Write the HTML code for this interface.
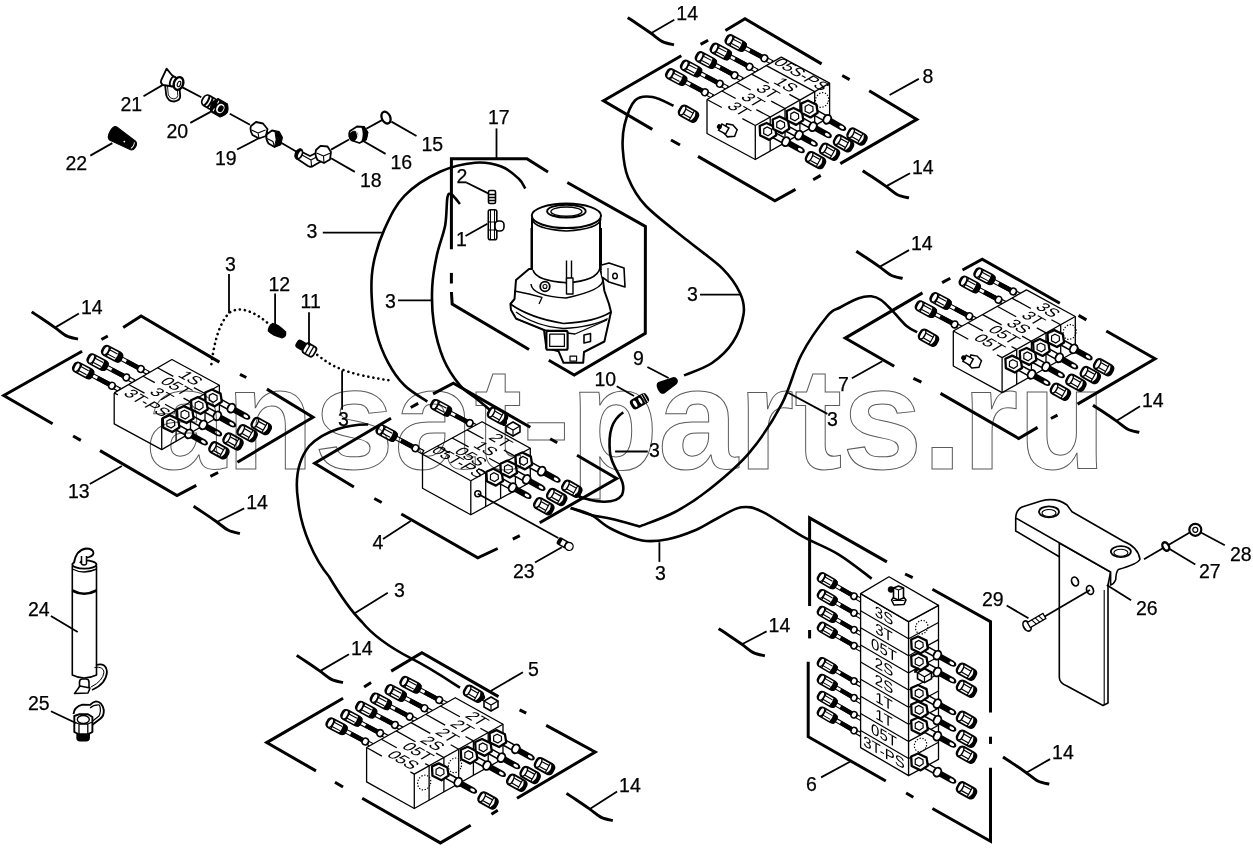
<!DOCTYPE html>
<html><head><meta charset="utf-8"><style>
html,body{margin:0;padding:0;background:#fff;width:1253px;height:857px;overflow:hidden}
svg{display:block;will-change:transform}
text{font-family:"Liberation Sans",sans-serif}
</style></head><body>
<svg width="1253" height="857" viewBox="0 0 1253 857">

<defs>
 <g id="fb">
  <rect x="0" y="-2.2" width="32" height="4.4" fill="#fff" stroke="#000" stroke-width="1.3"/>
  <rect x="12" y="-2.6" width="13" height="5.2" fill="#000"/>
  <ellipse cx="8.5" cy="0" rx="3.2" ry="4.1" fill="#fff" stroke="#000" stroke-width="1.9"/>
  <rect x="30.5" y="-6" width="21" height="12" rx="4" fill="#fff" stroke="#000" stroke-width="1.9"/>
  <path d="M30.5,-4.5 Q30.5,-6 33,-6 L36,-6 Q34.5,0 36,6 L33,6 Q30.5,6 30.5,4.5z" fill="#000"/>
  <path d="M36,-2.7 H45 M36,2.7 H45" stroke="#000" stroke-width="1.3"/>
  <path d="M45,-6 V6" stroke="#000" stroke-width="1.3"/>
  <ellipse cx="48" cy="0" rx="2.6" ry="5.6" fill="#fff" stroke="#000" stroke-width="1.5"/>
 </g>
 <g id="ff">
  <rect x="4" y="-2.8" width="20" height="5.6" fill="#fff" stroke="#000" stroke-width="1.5"/>
  <path d="M24,-3 H38 Q42,-2.7 42.5,0 Q42,2.7 38,3 H24z" fill="#000"/>
  <ellipse cx="37.5" cy="0" rx="2.6" ry="1.4" fill="#fff"/>
  <ellipse cx="21" cy="0" rx="3.6" ry="4.6" fill="#fff" stroke="#000" stroke-width="1.9"/>
  <polygon points="-9.5,-1 -5,-7 4.5,-7.5 9.5,-1 5.5,6.5 -4.5,7" fill="#fff" stroke="#000" stroke-width="2.3" stroke-linejoin="round"/>
  <polygon points="-4.5,-0.5 -2.5,-3.8 2.3,-4 4.5,-0.5 2.5,3.5 -2.3,3.7" fill="#fff" stroke="#000" stroke-width="1.2"/>
 </g>
 <g id="fc">
  <rect x="0" y="-5.6" width="19.5" height="11.2" rx="3.8" fill="#fff" stroke="#000" stroke-width="1.9"/>
  <ellipse cx="3" cy="0" rx="2.3" ry="5" fill="#fff" stroke="#000" stroke-width="1.4"/>
  <path d="M5.5,-2.7 H13.5 M5.5,2.7 H13.5" stroke="#000" stroke-width="1.2"/>
  <path d="M13.5,-5.4 V5.4" stroke="#000" stroke-width="1.2"/>
  <path d="M14.5,-5.6 H16 Q20,-5 20,0 Q20,5 16,5.6 H14.5 Q16.5,2 16.5,0 Q16.5,-2 14.5,-5.6z" fill="#000"/>
 </g>
</defs>

<path d="M627.7,17.6 C629.2,18.6 633.1,21.1 637.0,23.7 C640.9,26.3 646.8,30.3 651.0,33.3 C655.2,36.3 658.7,39.7 662.5,41.6 C666.3,43.5 672.1,44.3 674.0,44.8" fill="none" stroke="#000" stroke-width="2.9" />
<text x="676.3" y="20.1" font-size="19.5" text-anchor="start" fill="#000" stroke="#000" stroke-width="0.25">14</text>
<line x1="674.3" y1="19.8" x2="651.0" y2="33.3" stroke="#000" stroke-width="1.8"/>
<path d="M862.7,170.7 C864.2,171.7 868.1,174.2 872.0,176.8 C875.9,179.4 881.8,183.4 886.0,186.4 C890.2,189.4 893.7,192.8 897.5,194.7 C901.3,196.6 907.1,197.4 909.0,197.9" fill="none" stroke="#000" stroke-width="2.9" />
<text x="912" y="173.5" font-size="19.5" text-anchor="start" fill="#000" stroke="#000" stroke-width="0.25">14</text>
<line x1="910.0" y1="173.2" x2="886.0" y2="186.4" stroke="#000" stroke-width="1.8"/>
<path d="M856.3,251.2 C857.8,252.2 861.7,254.7 865.6,257.3 C869.5,259.9 875.3,263.9 879.6,266.9 C883.8,269.9 887.3,273.3 891.1,275.2 C894.9,277.1 900.7,277.9 902.6,278.4" fill="none" stroke="#000" stroke-width="2.9" />
<text x="911" y="250.4" font-size="19.5" text-anchor="start" fill="#000" stroke="#000" stroke-width="0.25">14</text>
<line x1="909.0" y1="250.1" x2="879.6" y2="266.9" stroke="#000" stroke-width="1.8"/>
<path d="M1093.0,405.2 C1094.5,406.2 1098.4,408.7 1102.3,411.3 C1106.2,413.9 1112.0,417.9 1116.3,420.9 C1120.5,423.9 1124.0,427.3 1127.8,429.2 C1131.6,431.1 1137.4,431.9 1139.3,432.4" fill="none" stroke="#000" stroke-width="2.9" />
<text x="1142" y="406.5" font-size="19.5" text-anchor="start" fill="#000" stroke="#000" stroke-width="0.25">14</text>
<line x1="1140.0" y1="406.2" x2="1116.3" y2="420.9" stroke="#000" stroke-width="1.8"/>
<path d="M31.7,311.9 C33.2,312.9 37.1,315.4 41.0,318.0 C44.9,320.6 50.8,324.6 55.0,327.6 C59.2,330.6 62.7,334.0 66.5,335.9 C70.3,337.8 76.1,338.6 78.0,339.1" fill="none" stroke="#000" stroke-width="2.9" />
<text x="80.9" y="313.8" font-size="19.5" text-anchor="start" fill="#000" stroke="#000" stroke-width="0.25">14</text>
<line x1="78.9" y1="313.5" x2="55.0" y2="327.6" stroke="#000" stroke-width="1.8"/>
<path d="M193.6,506.3 C195.2,507.3 199.0,509.8 202.9,512.4 C206.8,515.0 212.7,519.0 216.9,522.0 C221.2,525.0 224.6,528.4 228.4,530.3 C232.2,532.2 238.0,533.0 239.9,533.5" fill="none" stroke="#000" stroke-width="2.9" />
<text x="246.2" y="508.7" font-size="19.5" text-anchor="start" fill="#000" stroke="#000" stroke-width="0.25">14</text>
<line x1="244.2" y1="508.4" x2="216.9" y2="522.0" stroke="#000" stroke-width="1.8"/>
<path d="M296.7,655.4 C298.2,656.4 302.1,658.9 306.0,661.5 C309.9,664.1 315.8,668.1 320.0,671.1 C324.2,674.1 327.7,677.5 331.5,679.4 C335.3,681.3 341.1,682.1 343.0,682.6" fill="none" stroke="#000" stroke-width="2.9" />
<text x="351" y="654.5" font-size="19.5" text-anchor="start" fill="#000" stroke="#000" stroke-width="0.25">14</text>
<line x1="349.0" y1="654.2" x2="320.0" y2="671.1" stroke="#000" stroke-width="1.8"/>
<path d="M566.5,793.4 C568.0,794.4 571.9,796.9 575.8,799.5 C579.7,802.1 585.5,806.1 589.8,809.1 C594.0,812.1 597.5,815.5 601.3,817.4 C605.1,819.3 610.9,820.1 612.8,820.6" fill="none" stroke="#000" stroke-width="2.9" />
<text x="619.1" y="791.8" font-size="19.5" text-anchor="start" fill="#000" stroke="#000" stroke-width="0.25">14</text>
<line x1="617.1" y1="791.5" x2="589.8" y2="809.1" stroke="#000" stroke-width="1.8"/>
<path d="M718.6,628.6 C720.1,629.6 724.0,632.1 727.9,634.7 C731.8,637.3 737.6,641.3 741.9,644.3 C746.1,647.3 749.6,650.7 753.4,652.6 C757.2,654.5 763.0,655.3 764.9,655.8" fill="none" stroke="#000" stroke-width="2.9" />
<text x="768.6" y="631.7" font-size="19.5" text-anchor="start" fill="#000" stroke="#000" stroke-width="0.25">14</text>
<line x1="766.6" y1="631.4" x2="741.9" y2="644.3" stroke="#000" stroke-width="1.8"/>
<path d="M1003.0,757.0 C1004.5,758.0 1008.4,760.5 1012.3,763.1 C1016.2,765.7 1022.0,769.7 1026.3,772.7 C1030.5,775.7 1034.0,779.1 1037.8,781.0 C1041.6,782.9 1047.4,783.7 1049.3,784.2" fill="none" stroke="#000" stroke-width="2.9" />
<text x="1052.1" y="759.4" font-size="19.5" text-anchor="start" fill="#000" stroke="#000" stroke-width="0.25">14</text>
<line x1="1050.1" y1="759.1" x2="1026.3" y2="772.7" stroke="#000" stroke-width="1.8"/>
<polyline points="725.4,30.5 745.0,18.8 821.6,63.9" fill="none" stroke="#000" stroke-width="3" stroke-linejoin="miter" />
<line x1="842.2" y1="75.5" x2="849.6" y2="79.6" stroke="#000" stroke-width="3"/>
<polyline points="869.2,90.8 916.8,119.4 840.3,163.6" fill="none" stroke="#000" stroke-width="3" stroke-linejoin="miter" />
<line x1="820.7" y1="175.4" x2="813.2" y2="179.7" stroke="#000" stroke-width="3"/>
<polyline points="795.5,189.4 774.9,200.8 698.0,156.4" fill="none" stroke="#000" stroke-width="3" stroke-linejoin="miter" />
<line x1="671.0" y1="140.0" x2="680.0" y2="145.0" stroke="#000" stroke-width="3"/>
<polyline points="652.3,129.4 603.5,100.7 681.3,55.8" fill="none" stroke="#000" stroke-width="3" stroke-linejoin="miter" />
<line x1="700.6" y1="44.4" x2="708.1" y2="40.2" stroke="#000" stroke-width="3"/>
<use href="#fb" transform="translate(712.4,96.3) rotate(208) scale(1.0,0.85)"/>
<use href="#fb" transform="translate(727.3,87.8) rotate(208) scale(1.0,0.85)"/>
<use href="#fb" transform="translate(742.1,79.3) rotate(208) scale(1.0,0.85)"/>
<use href="#fb" transform="translate(757.0,70.8) rotate(208) scale(1.0,0.85)"/>
<use href="#fb" transform="translate(771.9,62.3) rotate(208) scale(1.0,0.85)"/>
<polygon points="707.0,99.5 755.3,125.5 755.3,159.5 707.0,133.5" fill="#fff" stroke="#000" stroke-width="0" stroke-linejoin="round"/>
<polygon points="755.3,125.5 829.6,83.1 829.6,117.1 755.3,159.5" fill="#fff" stroke="#000" stroke-width="0" stroke-linejoin="round"/>
<polygon points="707.0,99.5 755.3,125.5 829.6,83.1 781.3,57.1" fill="#fff" stroke="#000" stroke-width="0" stroke-linejoin="round"/>
<polyline points="707.0,99.5 707.0,133.5 755.3,159.5 829.6,117.1 829.6,83.1 781.3,57.1 707.0,99.5" fill="none" stroke="#000" stroke-width="1.3" stroke-linejoin="round"/>
<line x1="755.3" y1="125.5" x2="755.3" y2="159.5" stroke="#000" stroke-width="1.3"/>
<line x1="755.3" y1="125.5" x2="829.6" y2="83.1" stroke="#000" stroke-width="1.3"/>
<line x1="770.2" y1="117.0" x2="770.2" y2="151.0" stroke="#000" stroke-width="1.3"/>
<line x1="785.0" y1="108.5" x2="785.0" y2="142.5" stroke="#000" stroke-width="1.3"/>
<line x1="799.9" y1="100.1" x2="799.9" y2="134.1" stroke="#000" stroke-width="1.3"/>
<line x1="814.7" y1="91.6" x2="814.7" y2="125.6" stroke="#000" stroke-width="1.3"/>
<line x1="707.0" y1="99.5" x2="721.8" y2="107.5" stroke="#000" stroke-width="1.3"/>
<line x1="742.4" y1="118.6" x2="755.3" y2="125.5" stroke="#000" stroke-width="1.3"/>
<text x="0" y="-2.5" font-size="16.5" text-anchor="middle" transform="matrix(0.866,0.5,-0.866,0.5,732.1,113.0)" fill="#000">3T</text>
<line x1="721.9" y1="91.0" x2="735.7" y2="98.5" stroke="#000" stroke-width="1.3"/>
<line x1="756.3" y1="109.6" x2="770.2" y2="117.0" stroke="#000" stroke-width="1.3"/>
<text x="0" y="-2.5" font-size="16.5" text-anchor="middle" transform="matrix(0.866,0.5,-0.866,0.5,746.0,104.0)" fill="#000">3T</text>
<line x1="736.7" y1="82.5" x2="750.6" y2="90.0" stroke="#000" stroke-width="1.3"/>
<line x1="771.2" y1="101.1" x2="785.0" y2="108.5" stroke="#000" stroke-width="1.3"/>
<text x="0" y="-2.5" font-size="16.5" text-anchor="middle" transform="matrix(0.866,0.5,-0.866,0.5,760.9,95.5)" fill="#000">3T</text>
<line x1="751.6" y1="74.1" x2="768.8" y2="83.3" stroke="#000" stroke-width="1.3"/>
<line x1="789.4" y1="94.4" x2="799.9" y2="100.1" stroke="#000" stroke-width="1.3"/>
<text x="0" y="-2.5" font-size="16.5" text-anchor="middle" transform="matrix(0.866,0.5,-0.866,0.5,779.1,88.9)" fill="#000">1S</text>
<line x1="766.4" y1="65.6" x2="814.7" y2="91.6" stroke="#000" stroke-width="1.3"/>
<text x="0" y="-5" font-size="16.5" text-anchor="middle" transform="matrix(0.866,0.5,-0.866,0.5,792.5,79.6)" fill="#000">05S-PS</text>
<use href="#ff" transform="translate(767.5,131.5) rotate(29) scale(1.0,1.0)"/>
<use href="#ff" transform="translate(780.5,125.0) rotate(29) scale(1.0,1.0)"/>
<use href="#ff" transform="translate(794.5,116.5) rotate(29) scale(1.0,1.0)"/>
<use href="#ff" transform="translate(808.9,109.1) rotate(29) scale(1.0,1.0)"/>
<use href="#fc" transform="translate(807.0,155.4) rotate(29) scale(1.0,1.0)"/>
<use href="#fc" transform="translate(821.0,147.0) rotate(29) scale(1.0,1.0)"/>
<use href="#fc" transform="translate(835.0,138.6) rotate(29) scale(1.0,1.0)"/>
<use href="#fc" transform="translate(848.5,131.8) rotate(29) scale(1.0,1.0)"/>
<ellipse cx="822" cy="100" rx="6.375" ry="7.5" fill="none" stroke="#000" stroke-width="1.2" stroke-dasharray="1.3 1.6" transform="rotate(25 822 100)"/>
<g transform="translate(729,132) rotate(29)"><path d="M-6,-6 l6,-2 l6,2 l1,7 l-6,4 l-6,-2z" fill="#fff" stroke="#000" stroke-width="1.5"/><rect x="-10" y="-3.5" width="8" height="7" fill="#fff" stroke="#000" stroke-width="1.5"/><circle cx="-11" cy="0" r="2.5" fill="#000"/></g>
<path d="M673.5,105.8 C670.0,104.3 658.9,97.9 652.5,97.0 C646.1,96.1 639.7,95.8 635.0,100.5 C630.3,105.2 626.5,116.8 624.5,125.0 C622.5,133.2 622.2,140.8 622.8,149.5 C623.4,158.2 624.2,168.2 628.0,177.5 C631.8,186.8 635.6,195.0 645.5,205.5 C655.4,216.0 674.7,230.1 687.5,240.6 C700.3,251.1 713.8,259.9 722.5,268.6 C731.2,277.3 736.5,285.4 740.0,293.0 C743.5,300.6 744.8,305.8 743.6,314.0 C742.4,322.2 738.3,333.8 733.0,342.0 C727.7,350.2 720.2,357.4 712.0,363.0 C703.8,368.6 688.7,373.3 684.0,375.4" fill="none" stroke="#000" stroke-width="2.6" />
<use href="#fc" transform="translate(680.0,109.0) rotate(29) scale(1.0,1.0)"/>
<text x="922.5" y="83" font-size="19.5" text-anchor="start" fill="#000" stroke="#000" stroke-width="0.25">8</text>
<line x1="918.8" y1="78.9" x2="889.6" y2="95.0" stroke="#000" stroke-width="1.8"/>
<text x="687" y="301" font-size="19.5" text-anchor="start" fill="#000" stroke="#000" stroke-width="0.25">3</text>
<line x1="700.0" y1="294.7" x2="740.8" y2="294.7" stroke="#000" stroke-width="1.8"/>
<polyline points="962.5,270.0 982.2,259.1 1059.8,303.2" fill="none" stroke="#000" stroke-width="3" stroke-linejoin="miter" />
<line x1="942.1" y1="282.6" x2="950.3" y2="278.2" stroke="#000" stroke-width="3"/>
<line x1="1078.6" y1="315.4" x2="1086.4" y2="319.9" stroke="#000" stroke-width="3"/>
<polyline points="922.5,292.9 845.2,338.1 894.2,366.3" fill="none" stroke="#000" stroke-width="3" stroke-linejoin="miter" />
<line x1="913.4" y1="378.3" x2="921.4" y2="382.2" stroke="#000" stroke-width="3"/>
<polyline points="940.5,393.4 1018.7,438.5 1037.6,427.4" fill="none" stroke="#000" stroke-width="3" stroke-linejoin="miter" />
<line x1="1057.5" y1="415.2" x2="1050.9" y2="418.5" stroke="#000" stroke-width="3"/>
<polyline points="1077.5,404.1 1155.1,358.7 1106.3,331.0" fill="none" stroke="#000" stroke-width="3" stroke-linejoin="miter" />
<use href="#fb" transform="translate(962.1,328.4) rotate(208) scale(1.0,0.85)"/>
<use href="#fb" transform="translate(976.8,320.2) rotate(208) scale(1.0,0.85)"/>
<use href="#fb" transform="translate(1006.0,303.7) rotate(208) scale(1.0,0.85)"/>
<use href="#fb" transform="translate(1020.7,295.5) rotate(208) scale(1.0,0.85)"/>
<polygon points="953.3,331.0 1002.1,357.6 1002.1,392.6 953.3,366.0" fill="#fff" stroke="#000" stroke-width="0" stroke-linejoin="round"/>
<polygon points="1002.1,357.6 1075.3,316.5 1075.3,351.5 1002.1,392.6" fill="#fff" stroke="#000" stroke-width="0" stroke-linejoin="round"/>
<polygon points="953.3,331.0 1002.1,357.6 1075.3,316.5 1026.5,289.9" fill="#fff" stroke="#000" stroke-width="0" stroke-linejoin="round"/>
<polyline points="953.3,331.0 953.3,366.0 1002.1,392.6 1075.3,351.5 1075.3,316.5 1026.5,289.9 953.3,331.0" fill="none" stroke="#000" stroke-width="1.3" stroke-linejoin="round"/>
<line x1="1002.1" y1="357.6" x2="1002.1" y2="392.6" stroke="#000" stroke-width="1.3"/>
<line x1="1002.1" y1="357.6" x2="1075.3" y2="316.5" stroke="#000" stroke-width="1.3"/>
<line x1="1016.7" y1="349.4" x2="1016.7" y2="384.4" stroke="#000" stroke-width="1.3"/>
<line x1="1031.4" y1="341.2" x2="1031.4" y2="376.2" stroke="#000" stroke-width="1.3"/>
<line x1="1046.0" y1="332.9" x2="1046.0" y2="367.9" stroke="#000" stroke-width="1.3"/>
<line x1="1060.7" y1="324.7" x2="1060.7" y2="359.7" stroke="#000" stroke-width="1.3"/>
<line x1="953.3" y1="331.0" x2="968.3" y2="339.2" stroke="#000" stroke-width="1.3"/>
<line x1="996.9" y1="354.8" x2="1002.1" y2="357.6" stroke="#000" stroke-width="1.3"/>
<text x="0" y="-2.5" font-size="16.5" text-anchor="middle" transform="matrix(0.866,0.5,-0.866,0.5,982.6,347.0)" fill="#000">05T</text>
<line x1="967.9" y1="322.8" x2="982.9" y2="330.9" stroke="#000" stroke-width="1.3"/>
<line x1="1011.5" y1="346.5" x2="1016.7" y2="349.4" stroke="#000" stroke-width="1.3"/>
<text x="0" y="-2.5" font-size="16.5" text-anchor="middle" transform="matrix(0.866,0.5,-0.866,0.5,997.2,338.7)" fill="#000">05T</text>
<line x1="982.6" y1="314.6" x2="1001.6" y2="324.9" stroke="#000" stroke-width="1.3"/>
<line x1="1022.1" y1="336.1" x2="1031.4" y2="341.2" stroke="#000" stroke-width="1.3"/>
<text x="0" y="-2.5" font-size="16.5" text-anchor="middle" transform="matrix(0.866,0.5,-0.866,0.5,1011.9,330.5)" fill="#000">3S</text>
<line x1="997.2" y1="306.3" x2="1016.2" y2="316.7" stroke="#000" stroke-width="1.3"/>
<line x1="1036.8" y1="327.9" x2="1046.0" y2="332.9" stroke="#000" stroke-width="1.3"/>
<text x="0" y="-2.5" font-size="16.5" text-anchor="middle" transform="matrix(0.866,0.5,-0.866,0.5,1026.5,322.3)" fill="#000">3T</text>
<line x1="1011.9" y1="298.1" x2="1030.9" y2="308.5" stroke="#000" stroke-width="1.3"/>
<line x1="1051.4" y1="319.7" x2="1060.7" y2="324.7" stroke="#000" stroke-width="1.3"/>
<text x="0" y="-2.5" font-size="16.5" text-anchor="middle" transform="matrix(0.866,0.5,-0.866,0.5,1041.1,314.1)" fill="#000">3S</text>
<use href="#ff" transform="translate(1013.2,364.2) rotate(29) scale(1.0,1.0)"/>
<use href="#ff" transform="translate(1027.6,356.5) rotate(29) scale(1.0,1.0)"/>
<use href="#ff" transform="translate(1040.9,347.6) rotate(29) scale(1.0,1.0)"/>
<use href="#ff" transform="translate(1055.3,338.7) rotate(29) scale(1.0,1.0)"/>
<use href="#fc" transform="translate(1051.9,387.0) rotate(29) scale(1.0,1.0)"/>
<use href="#fc" transform="translate(1067.4,378.0) rotate(29) scale(1.0,1.0)"/>
<use href="#fc" transform="translate(1081.8,370.3) rotate(29) scale(1.0,1.0)"/>
<use href="#fc" transform="translate(1095.1,362.5) rotate(29) scale(1.0,1.0)"/>
<ellipse cx="1069.7" cy="332" rx="6.375" ry="7.5" fill="none" stroke="#000" stroke-width="1.2" stroke-dasharray="1.3 1.6" transform="rotate(25 1069.7 332)"/>
<g transform="translate(973.3,363.1) rotate(29)"><path d="M-6,-6 l6,-2 l6,2 l1,7 l-6,4 l-6,-2z" fill="#fff" stroke="#000" stroke-width="1.5"/><rect x="-10" y="-3.5" width="8" height="7" fill="#fff" stroke="#000" stroke-width="1.5"/><circle cx="-11" cy="0" r="2.5" fill="#000"/></g>
<text x="838" y="391" font-size="19.5" text-anchor="start" fill="#000" stroke="#000" stroke-width="0.25">7</text>
<line x1="851.9" y1="378.3" x2="882.3" y2="361.2" stroke="#000" stroke-width="1.8"/>
<use href="#fc" transform="translate(920.0,333.0) rotate(29) scale(1.0,1.0)"/>
<polyline points="123.2,327.5 141.1,315.9 219.4,362.1" fill="none" stroke="#000" stroke-width="3" stroke-linejoin="miter" />
<line x1="101.4" y1="339.5" x2="107.8" y2="336.0" stroke="#000" stroke-width="3"/>
<line x1="240.0" y1="374.4" x2="246.3" y2="377.5" stroke="#000" stroke-width="3"/>
<polyline points="82.1,351.3 3.8,395.5 52.6,423.7" fill="none" stroke="#000" stroke-width="3" stroke-linejoin="miter" />
<line x1="73.1" y1="436.0" x2="80.8" y2="440.4" stroke="#000" stroke-width="3"/>
<polyline points="100.0,450.6 177.0,495.5 196.3,485.3" fill="none" stroke="#000" stroke-width="3" stroke-linejoin="miter" />
<line x1="210.4" y1="476.3" x2="218.1" y2="472.5" stroke="#000" stroke-width="3"/>
<polyline points="237.4,462.2 313.0,417.3 266.9,389.1" fill="none" stroke="#000" stroke-width="3" stroke-linejoin="miter" />
<use href="#fb" transform="translate(119.4,389.7) rotate(208) scale(1.0,0.85)"/>
<use href="#fb" transform="translate(133.8,381.4) rotate(208) scale(1.0,0.85)"/>
<use href="#fb" transform="translate(148.3,373.0) rotate(208) scale(1.0,0.85)"/>
<polygon points="114.2,392.9 161.7,418.6 161.7,449.6 114.2,423.9" fill="#fff" stroke="#000" stroke-width="0" stroke-linejoin="round"/>
<polygon points="161.7,418.6 219.4,385.2 219.4,416.2 161.7,449.6" fill="#fff" stroke="#000" stroke-width="0" stroke-linejoin="round"/>
<polygon points="114.2,392.9 161.7,418.6 219.4,385.2 171.9,359.5" fill="#fff" stroke="#000" stroke-width="0" stroke-linejoin="round"/>
<polyline points="114.2,392.9 114.2,423.9 161.7,449.6 219.4,416.2 219.4,385.2 171.9,359.5 114.2,392.9" fill="none" stroke="#000" stroke-width="1.3" stroke-linejoin="round"/>
<line x1="161.7" y1="418.6" x2="161.7" y2="449.6" stroke="#000" stroke-width="1.3"/>
<line x1="161.7" y1="418.6" x2="219.4" y2="385.2" stroke="#000" stroke-width="1.3"/>
<line x1="176.1" y1="410.2" x2="176.1" y2="441.2" stroke="#000" stroke-width="1.3"/>
<line x1="190.5" y1="401.9" x2="190.5" y2="432.9" stroke="#000" stroke-width="1.3"/>
<line x1="205.0" y1="393.5" x2="205.0" y2="424.5" stroke="#000" stroke-width="1.3"/>
<line x1="114.2" y1="392.9" x2="117.9" y2="394.9" stroke="#000" stroke-width="1.3"/>
<line x1="162.8" y1="419.2" x2="161.7" y2="418.6" stroke="#000" stroke-width="1.3"/>
<text x="0" y="-2.5" font-size="16.5" text-anchor="middle" transform="matrix(0.866,0.5,-0.866,0.5,140.3,407.0)" fill="#000">3T-PS</text>
<line x1="128.6" y1="384.5" x2="144.5" y2="393.1" stroke="#000" stroke-width="1.3"/>
<line x1="165.0" y1="404.3" x2="176.1" y2="410.2" stroke="#000" stroke-width="1.3"/>
<text x="0" y="-2.5" font-size="16.5" text-anchor="middle" transform="matrix(0.866,0.5,-0.866,0.5,154.8,398.7)" fill="#000">3T</text>
<line x1="143.1" y1="376.2" x2="154.8" y2="382.6" stroke="#000" stroke-width="1.3"/>
<line x1="183.5" y1="398.1" x2="190.6" y2="401.9" stroke="#000" stroke-width="1.3"/>
<text x="0" y="-2.5" font-size="16.5" text-anchor="middle" transform="matrix(0.866,0.5,-0.866,0.5,169.2,390.3)" fill="#000">05T</text>
<line x1="157.5" y1="367.8" x2="173.3" y2="376.4" stroke="#000" stroke-width="1.3"/>
<line x1="193.9" y1="387.6" x2="205.0" y2="393.5" stroke="#000" stroke-width="1.3"/>
<text x="0" y="-2.5" font-size="16.5" text-anchor="middle" transform="matrix(0.866,0.5,-0.866,0.5,183.6,382.0)" fill="#000">1S</text>
<use href="#ff" transform="translate(170.6,423.7) rotate(29) scale(1.0,1.0)"/>
<use href="#ff" transform="translate(184.8,414.7) rotate(29) scale(1.0,1.0)"/>
<use href="#ff" transform="translate(198.9,405.7) rotate(29) scale(1.0,1.0)"/>
<use href="#ff" transform="translate(213.0,398.0) rotate(29) scale(1.0,1.0)"/>
<use href="#fc" transform="translate(210.4,445.6) rotate(29) scale(1.0,1.0)"/>
<use href="#fc" transform="translate(224.5,436.7) rotate(29) scale(1.0,1.0)"/>
<use href="#fc" transform="translate(238.6,428.5) rotate(29) scale(1.0,1.0)"/>
<use href="#fc" transform="translate(252.7,421.3) rotate(29) scale(1.0,1.0)"/>
<text x="68" y="497.5" font-size="19.5" text-anchor="start" fill="#000" stroke="#000" stroke-width="0.25">13</text>
<line x1="89.8" y1="484.0" x2="121.9" y2="466.0" stroke="#000" stroke-width="1.8"/>
<polyline points="433.1,393.9 453.4,383.1 530.3,427.2" fill="none" stroke="#000" stroke-width="3" stroke-linejoin="miter" />
<line x1="410.7" y1="407.5" x2="418.2" y2="403.4" stroke="#000" stroke-width="3"/>
<line x1="550.2" y1="438.8" x2="557.2" y2="442.8" stroke="#000" stroke-width="3"/>
<polyline points="391.0,418.3 314.7,463.3 353.9,487.0" fill="none" stroke="#000" stroke-width="3" stroke-linejoin="miter" />
<line x1="374.3" y1="498.5" x2="381.7" y2="502.5" stroke="#000" stroke-width="3"/>
<polyline points="401.3,514.0 477.8,557.8 497.7,548.5" fill="none" stroke="#000" stroke-width="3" stroke-linejoin="miter" />
<line x1="519.8" y1="535.7" x2="512.8" y2="539.2" stroke="#000" stroke-width="3"/>
<polyline points="539.7,522.8 616.7,478.5 577.0,455.2" fill="none" stroke="#000" stroke-width="3" stroke-linejoin="miter" />
<use href="#fb" transform="translate(422.9,452.2) rotate(208) scale(1.0,0.85)"/>
<use href="#fb" transform="translate(477.2,427.1) rotate(208) scale(1.0,0.85)"/>
<use href="#fc" transform="translate(489.0,411.0) rotate(29) scale(1.0,1.0)"/>
<polygon points="422.5,454.3 470.8,480.8 470.8,514.8 422.5,488.3" fill="#fff" stroke="#000" stroke-width="0" stroke-linejoin="round"/>
<polygon points="470.8,480.8 530.3,448.2 530.3,482.2 470.8,514.8" fill="#fff" stroke="#000" stroke-width="0" stroke-linejoin="round"/>
<polygon points="422.5,454.3 470.8,480.8 530.3,448.2 482.0,421.7" fill="#fff" stroke="#000" stroke-width="0" stroke-linejoin="round"/>
<polyline points="422.5,454.3 422.5,488.3 470.8,514.8 530.3,482.2 530.3,448.2 482.0,421.7 422.5,454.3" fill="none" stroke="#000" stroke-width="1.3" stroke-linejoin="round"/>
<line x1="470.8" y1="480.8" x2="470.8" y2="514.8" stroke="#000" stroke-width="1.3"/>
<line x1="470.8" y1="480.8" x2="530.3" y2="448.2" stroke="#000" stroke-width="1.3"/>
<line x1="485.7" y1="472.7" x2="485.7" y2="506.7" stroke="#000" stroke-width="1.3"/>
<line x1="500.6" y1="464.5" x2="500.6" y2="498.5" stroke="#000" stroke-width="1.3"/>
<line x1="515.4" y1="456.4" x2="515.4" y2="490.4" stroke="#000" stroke-width="1.3"/>
<line x1="422.5" y1="454.3" x2="470.8" y2="480.8" stroke="#000" stroke-width="1.3"/>
<text x="0" y="-7" font-size="16.5" text-anchor="middle" transform="matrix(0.866,0.5,-0.866,0.5,448.1,468.3)" fill="#000">05T-PS</text>
<line x1="437.4" y1="446.2" x2="449.6" y2="452.9" stroke="#000" stroke-width="1.3"/>
<line x1="478.2" y1="468.6" x2="485.7" y2="472.7" stroke="#000" stroke-width="1.3"/>
<text x="0" y="-2.5" font-size="16.5" text-anchor="middle" transform="matrix(0.866,0.5,-0.866,0.5,463.9,460.7)" fill="#000">05S</text>
<line x1="452.2" y1="438.0" x2="468.6" y2="446.9" stroke="#000" stroke-width="1.3"/>
<line x1="489.1" y1="458.2" x2="500.6" y2="464.5" stroke="#000" stroke-width="1.3"/>
<text x="0" y="-2.5" font-size="16.5" text-anchor="middle" transform="matrix(0.866,0.5,-0.866,0.5,478.8,452.6)" fill="#000">1S</text>
<line x1="467.1" y1="429.9" x2="483.4" y2="438.8" stroke="#000" stroke-width="1.3"/>
<line x1="503.9" y1="450.1" x2="515.4" y2="456.4" stroke="#000" stroke-width="1.3"/>
<text x="0" y="-2.5" font-size="16.5" text-anchor="middle" transform="matrix(0.866,0.5,-0.866,0.5,493.7,444.4)" fill="#000">2T</text>
<use href="#ff" transform="translate(494.2,477.3) rotate(29) scale(1.0,1.0)"/>
<use href="#ff" transform="translate(508.2,469.2) rotate(29) scale(1.0,1.0)"/>
<use href="#ff" transform="translate(523.3,461.0) rotate(29) scale(1.0,1.0)"/>
<use href="#fc" transform="translate(535.3,501.5) rotate(29) scale(1.0,1.0)"/>
<use href="#fc" transform="translate(548.2,492.2) rotate(29) scale(1.0,1.0)"/>
<use href="#fc" transform="translate(563.3,484.0) rotate(29) scale(1.0,1.0)"/>
<g transform="translate(513,430)"><path d="M-7,2 l0,-6 l7,-4 l7,4 l0,6 l-7,4z" fill="#fff" stroke="#000" stroke-width="1.6"/><path d="M-7,-4 l7,4 l7,-4 M0,0 v6" fill="none" stroke="#000" stroke-width="1.2"/><path d="M-9,-4 q0,-4 3,-4" stroke="#000" stroke-width="3" fill="none"/></g>
<circle cx="477.8" cy="493.7" r="3" fill="#fff" stroke="#000" stroke-width="1.5"/>
<line x1="477.8" y1="493.7" x2="558.3" y2="538.0" stroke="#000" stroke-width="1.8"/>
<g transform="translate(563,543) rotate(29)"><rect x="-6" y="-4" width="12" height="8" rx="2" fill="#000"/><rect x="-2" y="-2.5" width="4" height="5" fill="#fff"/><circle cx="7" cy="0" r="4" fill="#fff" stroke="#000" stroke-width="1.3"/></g>
<text x="513" y="578" font-size="19.5" text-anchor="start" fill="#000" stroke="#000" stroke-width="0.25">23</text>
<line x1="535.0" y1="562.5" x2="561.8" y2="547.3" stroke="#000" stroke-width="1.8"/>
<text x="372.5" y="548.5" font-size="19.5" text-anchor="start" fill="#000" stroke="#000" stroke-width="0.25">4</text>
<line x1="383.0" y1="538.9" x2="410.7" y2="521.0" stroke="#000" stroke-width="1.8"/>
<text x="594.5" y="385.5" font-size="19.5" text-anchor="start" fill="#000" stroke="#000" stroke-width="0.25">10</text>
<line x1="616.7" y1="386.3" x2="634.0" y2="396.0" stroke="#000" stroke-width="1.8"/>
<g transform="translate(639.5,401.3) rotate(-30)"><rect x="-9.5" y="-5.5" width="19" height="11" rx="4" fill="#000"/><ellipse cx="-5" cy="0" rx="1.6" ry="3.5" fill="#fff"/><ellipse cx="1" cy="0" rx="1.3" ry="3.5" fill="#fff"/><path d="M4.5,-5 v10 M7,-5 v10" stroke="#fff" stroke-width="0.8"/></g>
<text x="633" y="365" font-size="19.5" text-anchor="start" fill="#000" stroke="#000" stroke-width="0.25">9</text>
<line x1="647.4" y1="367.0" x2="668.6" y2="378.0" stroke="#000" stroke-width="1.8"/>
<g transform="translate(668.5,384) rotate(-28)"><path d="M-8,-6.5 Q-12,-6 -12,0 Q-12,6 -8,6.5 L7,4 Q10,3 10,0 Q10,-3 7,-4z" fill="#000"/></g>
<polyline points="391.2,671.1 421.9,652.7 498.5,696.6" fill="none" stroke="#000" stroke-width="3" stroke-linejoin="miter" />
<line x1="364.1" y1="686.9" x2="371.1" y2="682.5" stroke="#000" stroke-width="3"/>
<line x1="519.6" y1="709.9" x2="526.2" y2="713.2" stroke="#000" stroke-width="3"/>
<polyline points="343.1,698.2 266.7,742.6 316.0,770.9" fill="none" stroke="#000" stroke-width="3" stroke-linejoin="miter" />
<line x1="335.0" y1="782.3" x2="343.0" y2="787.0" stroke="#000" stroke-width="3"/>
<polyline points="362.2,798.2 440.4,842.9 470.7,825.3" fill="none" stroke="#000" stroke-width="3" stroke-linejoin="miter" />
<line x1="491.4" y1="814.2" x2="497.8" y2="810.3" stroke="#000" stroke-width="3"/>
<polyline points="517.0,798.2 595.2,752.0 546.2,725.4" fill="none" stroke="#000" stroke-width="3" stroke-linejoin="miter" />
<use href="#fb" transform="translate(372.8,745.5) rotate(208) scale(1.0,0.85)"/>
<use href="#fb" transform="translate(387.6,737.1) rotate(208) scale(1.0,0.85)"/>
<use href="#fb" transform="translate(402.4,728.9) rotate(208) scale(1.0,0.85)"/>
<use href="#fb" transform="translate(417.1,720.6) rotate(208) scale(1.0,0.85)"/>
<use href="#fb" transform="translate(431.9,712.2) rotate(208) scale(1.0,0.85)"/>
<use href="#fb" transform="translate(446.7,704.0) rotate(208) scale(1.0,0.85)"/>
<polygon points="366.6,747.5 414.3,774.1 414.3,808.5 366.6,781.9" fill="#fff" stroke="#000" stroke-width="0" stroke-linejoin="round"/>
<polygon points="414.3,774.1 503.0,724.3 503.0,758.7 414.3,808.5" fill="#fff" stroke="#000" stroke-width="0" stroke-linejoin="round"/>
<polygon points="366.6,747.5 414.3,774.1 503.0,724.3 455.3,697.7" fill="#fff" stroke="#000" stroke-width="0" stroke-linejoin="round"/>
<polyline points="366.6,747.5 366.6,781.9 414.3,808.5 503.0,758.7 503.0,724.3 455.3,697.7 366.6,747.5" fill="none" stroke="#000" stroke-width="1.3" stroke-linejoin="round"/>
<line x1="414.3" y1="774.1" x2="414.3" y2="808.5" stroke="#000" stroke-width="1.3"/>
<line x1="414.3" y1="774.1" x2="503.0" y2="724.3" stroke="#000" stroke-width="1.3"/>
<line x1="429.1" y1="765.8" x2="429.1" y2="800.2" stroke="#000" stroke-width="1.3"/>
<line x1="443.9" y1="757.5" x2="443.9" y2="791.9" stroke="#000" stroke-width="1.3"/>
<line x1="458.7" y1="749.2" x2="458.7" y2="783.6" stroke="#000" stroke-width="1.3"/>
<line x1="473.4" y1="740.9" x2="473.4" y2="775.3" stroke="#000" stroke-width="1.3"/>
<line x1="488.2" y1="732.6" x2="488.2" y2="767.0" stroke="#000" stroke-width="1.3"/>
<line x1="366.6" y1="747.5" x2="381.9" y2="756.1" stroke="#000" stroke-width="1.3"/>
<line x1="410.4" y1="771.9" x2="414.3" y2="774.1" stroke="#000" stroke-width="1.3"/>
<text x="0" y="-2.5" font-size="16.5" text-anchor="middle" transform="matrix(0.866,0.5,-0.866,0.5,396.2,764.0)" fill="#000">05S</text>
<line x1="381.4" y1="739.2" x2="396.7" y2="747.8" stroke="#000" stroke-width="1.3"/>
<line x1="425.2" y1="763.6" x2="429.1" y2="765.8" stroke="#000" stroke-width="1.3"/>
<text x="0" y="-2.5" font-size="16.5" text-anchor="middle" transform="matrix(0.866,0.5,-0.866,0.5,411.0,755.7)" fill="#000">05T</text>
<line x1="396.2" y1="730.9" x2="415.5" y2="741.7" stroke="#000" stroke-width="1.3"/>
<line x1="436.0" y1="753.1" x2="443.9" y2="757.5" stroke="#000" stroke-width="1.3"/>
<text x="0" y="-2.5" font-size="16.5" text-anchor="middle" transform="matrix(0.866,0.5,-0.866,0.5,425.7,747.4)" fill="#000">2S</text>
<line x1="411.0" y1="722.6" x2="430.3" y2="733.4" stroke="#000" stroke-width="1.3"/>
<line x1="450.7" y1="744.8" x2="458.7" y2="749.2" stroke="#000" stroke-width="1.3"/>
<text x="0" y="-2.5" font-size="16.5" text-anchor="middle" transform="matrix(0.866,0.5,-0.866,0.5,440.5,739.1)" fill="#000">2T</text>
<line x1="425.7" y1="714.3" x2="445.1" y2="725.1" stroke="#000" stroke-width="1.3"/>
<line x1="465.5" y1="736.5" x2="473.4" y2="740.9" stroke="#000" stroke-width="1.3"/>
<text x="0" y="-2.5" font-size="16.5" text-anchor="middle" transform="matrix(0.866,0.5,-0.866,0.5,455.3,730.8)" fill="#000">2T</text>
<line x1="440.5" y1="706.0" x2="459.9" y2="716.8" stroke="#000" stroke-width="1.3"/>
<line x1="480.3" y1="728.2" x2="488.2" y2="732.6" stroke="#000" stroke-width="1.3"/>
<text x="0" y="-2.5" font-size="16.5" text-anchor="middle" transform="matrix(0.866,0.5,-0.866,0.5,470.1,722.5)" fill="#000">2T</text>
<use href="#ff" transform="translate(439.8,771.9) rotate(29) scale(1.0,1.0)"/>
<use href="#ff" transform="translate(468.6,755.3) rotate(29) scale(1.0,1.0)"/>
<use href="#ff" transform="translate(483.0,747.5) rotate(29) scale(1.0,1.0)"/>
<use href="#ff" transform="translate(497.4,738.7) rotate(29) scale(1.0,1.0)"/>
<use href="#fc" transform="translate(479.5,795.7) rotate(29) scale(1.0,1.0)"/>
<use href="#fc" transform="translate(508.3,778.0) rotate(29) scale(1.0,1.0)"/>
<use href="#fc" transform="translate(521.6,770.2) rotate(29) scale(1.0,1.0)"/>
<use href="#fc" transform="translate(536.0,761.4) rotate(29) scale(1.0,1.0)"/>
<ellipse cx="424.2" cy="782.5" rx="6.375" ry="7.5" fill="none" stroke="#000" stroke-width="1.2" stroke-dasharray="1.3 1.6" transform="rotate(25 424.2 782.5)"/>
<ellipse cx="455" cy="765.3" rx="6.375" ry="7.5" fill="none" stroke="#000" stroke-width="1.2" stroke-dasharray="1.3 1.6" transform="rotate(25 455 765.3)"/>
<use href="#fc" transform="translate(465.0,689.0) rotate(29) scale(1.0,1.0)"/>
<g transform="translate(491,705)"><path d="M-7,2 l0,-6 l7,-4 l7,4 l0,6 l-7,4z" fill="#fff" stroke="#000" stroke-width="1.6"/><path d="M-7,-4 l7,4 l7,-4 M0,0 v6" fill="none" stroke="#000" stroke-width="1.2"/><path d="M-9,-4 q0,-4 3,-4" stroke="#000" stroke-width="3" fill="none"/></g>
<text x="528" y="675.5" font-size="19.5" text-anchor="start" fill="#000" stroke="#000" stroke-width="0.25">5</text>
<line x1="522.9" y1="672.2" x2="490.7" y2="691.0" stroke="#000" stroke-width="1.8"/>
<polyline points="809.6,605.9 809.6,517.9 886.9,561.9" fill="none" stroke="#000" stroke-width="3" stroke-linejoin="miter" />
<line x1="809.6" y1="630.0" x2="809.6" y2="638.4" stroke="#000" stroke-width="3"/>
<line x1="905.1" y1="574.0" x2="912.7" y2="577.7" stroke="#000" stroke-width="3"/>
<polyline points="932.4,589.2 990.5,621.6 990.5,712.5" fill="none" stroke="#000" stroke-width="3" stroke-linejoin="miter" />
<line x1="990.5" y1="736.7" x2="990.5" y2="743.9" stroke="#000" stroke-width="3"/>
<polyline points="990.5,767.8 990.5,841.3 932.4,808.5" fill="none" stroke="#000" stroke-width="3" stroke-linejoin="miter" />
<line x1="906.1" y1="793.0" x2="913.3" y2="797.3" stroke="#000" stroke-width="3"/>
<polyline points="885.8,781.0 808.2,736.7 808.2,661.8" fill="none" stroke="#000" stroke-width="3" stroke-linejoin="miter" />
<use href="#fb" transform="translate(861.0,600.2) rotate(210) scale(0.95,0.8)"/>
<use href="#fb" transform="translate(861.0,617.0) rotate(210) scale(0.95,0.8)"/>
<use href="#fb" transform="translate(861.0,633.8) rotate(210) scale(0.95,0.8)"/>
<use href="#fb" transform="translate(861.0,649.7) rotate(210) scale(0.95,0.8)"/>
<use href="#fb" transform="translate(861.0,685.1) rotate(210) scale(0.95,0.8)"/>
<use href="#fb" transform="translate(861.0,701.9) rotate(210) scale(0.95,0.8)"/>
<use href="#fb" transform="translate(861.0,718.8) rotate(210) scale(0.95,0.8)"/>
<use href="#fb" transform="translate(861.0,734.6) rotate(210) scale(0.95,0.8)"/>
<polygon points="860.6,593.6 908.6,621.6 908.6,775.6 860.6,747.6" fill="#fff" stroke="#000" stroke-width="1.3" stroke-linejoin="round"/>
<polygon points="908.6,621.6 938.5,605.4 938.5,759.4 908.6,775.6" fill="#fff" stroke="#000" stroke-width="1.3" stroke-linejoin="round"/>
<polygon points="860.6,593.6 908.6,621.6 938.5,605.4 889.0,576.8" fill="#fff" stroke="#000" stroke-width="1.3" stroke-linejoin="round"/>
<line x1="860.6" y1="610.7" x2="908.6" y2="638.7" stroke="#000" stroke-width="1.2"/>
<line x1="908.6" y1="638.7" x2="938.5" y2="622.5" stroke="#000" stroke-width="1.2"/>
<line x1="860.6" y1="627.8" x2="908.6" y2="655.8" stroke="#000" stroke-width="1.2"/>
<line x1="908.6" y1="655.8" x2="938.5" y2="639.6" stroke="#000" stroke-width="1.2"/>
<line x1="860.6" y1="644.9" x2="908.6" y2="672.9" stroke="#000" stroke-width="1.2"/>
<line x1="908.6" y1="672.9" x2="938.5" y2="656.7" stroke="#000" stroke-width="1.2"/>
<line x1="860.6" y1="662.0" x2="908.6" y2="690.0" stroke="#000" stroke-width="1.2"/>
<line x1="908.6" y1="690.0" x2="938.5" y2="673.8" stroke="#000" stroke-width="1.2"/>
<line x1="860.6" y1="679.2" x2="908.6" y2="707.2" stroke="#000" stroke-width="1.2"/>
<line x1="908.6" y1="707.2" x2="938.5" y2="691.0" stroke="#000" stroke-width="1.2"/>
<line x1="860.6" y1="696.3" x2="908.6" y2="724.3" stroke="#000" stroke-width="1.2"/>
<line x1="908.6" y1="724.3" x2="938.5" y2="708.1" stroke="#000" stroke-width="1.2"/>
<line x1="860.6" y1="713.4" x2="908.6" y2="741.4" stroke="#000" stroke-width="1.2"/>
<line x1="908.6" y1="741.4" x2="938.5" y2="725.2" stroke="#000" stroke-width="1.2"/>
<line x1="860.6" y1="730.5" x2="908.6" y2="758.5" stroke="#000" stroke-width="1.2"/>
<line x1="908.6" y1="758.5" x2="938.5" y2="742.3" stroke="#000" stroke-width="1.2"/>
<text x="0" y="0" font-size="15" text-anchor="middle" dominant-baseline="central" transform="matrix(1,0.58,0,1,884,615.2)">3S</text>
<text x="0" y="0" font-size="15" text-anchor="middle" dominant-baseline="central" transform="matrix(1,0.58,0,1,884,632.3)">3T</text>
<text x="0" y="0" font-size="15" text-anchor="middle" dominant-baseline="central" transform="matrix(1,0.58,0,1,884,649.4)">05T</text>
<text x="0" y="0" font-size="15" text-anchor="middle" dominant-baseline="central" transform="matrix(1,0.58,0,1,884,666.5)">2S</text>
<text x="0" y="0" font-size="15" text-anchor="middle" dominant-baseline="central" transform="matrix(1,0.58,0,1,884,683.6)">2S</text>
<text x="0" y="0" font-size="15" text-anchor="middle" dominant-baseline="central" transform="matrix(1,0.58,0,1,884,700.7)">1T</text>
<text x="0" y="0" font-size="15" text-anchor="middle" dominant-baseline="central" transform="matrix(1,0.58,0,1,884,717.8)">1T</text>
<text x="0" y="0" font-size="15" text-anchor="middle" dominant-baseline="central" transform="matrix(1,0.58,0,1,884,734.9)">05T</text>
<text x="0" y="0" font-size="15" text-anchor="middle" dominant-baseline="central" transform="matrix(1,0.58,0,1,884,752.0)">3T-PS</text>
<use href="#ff" transform="translate(919.0,645.0) rotate(29) scale(1.0,1.0)"/>
<use href="#ff" transform="translate(919.0,661.8) rotate(29) scale(1.0,1.0)"/>
<use href="#ff" transform="translate(919.0,693.5) rotate(29) scale(1.0,1.0)"/>
<use href="#ff" transform="translate(919.0,710.0) rotate(29) scale(1.0,1.0)"/>
<use href="#ff" transform="translate(919.0,726.0) rotate(29) scale(1.0,1.0)"/>
<use href="#ff" transform="translate(919.0,762.0) rotate(29) scale(1.0,1.0)"/>
<use href="#fc" transform="translate(958.0,667.0) rotate(29) scale(1.0,1.0)"/>
<use href="#fc" transform="translate(958.0,684.0) rotate(29) scale(1.0,1.0)"/>
<use href="#fc" transform="translate(958.0,715.0) rotate(29) scale(1.0,1.0)"/>
<use href="#fc" transform="translate(958.0,734.0) rotate(29) scale(1.0,1.0)"/>
<use href="#fc" transform="translate(958.0,750.0) rotate(29) scale(1.0,1.0)"/>
<use href="#fc" transform="translate(958.0,785.6) rotate(29) scale(1.0,1.0)"/>
<ellipse cx="921.7" cy="627.2" rx="5.95" ry="7" fill="none" stroke="#000" stroke-width="1.2" stroke-dasharray="1.3 1.6" transform="rotate(25 921.7 627.2)"/>
<ellipse cx="920.5" cy="745" rx="5.95" ry="7" fill="none" stroke="#000" stroke-width="1.2" stroke-dasharray="1.3 1.6" transform="rotate(25 920.5 745)"/>
<g transform="translate(924.5,676.7)"><path d="M-7,2 l0,-6 l7,-4 l7,4 l0,6 l-7,4z" fill="#fff" stroke="#000" stroke-width="1.6"/><path d="M-7,-4 l7,4 l7,-4 M0,0 v6" fill="none" stroke="#000" stroke-width="1.2"/><path d="M-9,-4 q0,-4 3,-4" stroke="#000" stroke-width="3" fill="none"/></g>
<g stroke="#000" fill="#fff" stroke-linejoin="round">
    <circle cx="891" cy="589.5" r="3" fill="#000" stroke-width="0.5"/>
    <path d="M891.5,600 L894,597 L903.5,597 L906,600 L904,604.5 L894,605 z" stroke-width="1.6"/>
    <path d="M893,600.5 L904.5,600.5" fill="none" stroke-width="1"/>
    <path d="M893.5,588 L898.5,586 L903.5,588 L903.5,598 L898.5,600 L893.5,598z" stroke-width="1.6"/>
    <path d="M893.5,588 L898.5,590 L903.5,588 M898.5,590 V600" fill="none" stroke-width="1.1"/>
    </g>
<text x="806" y="791" font-size="19.5" text-anchor="start" fill="#000" stroke="#000" stroke-width="0.25">6</text>
<line x1="821.1" y1="777.4" x2="849.9" y2="761.8" stroke="#000" stroke-width="1.8"/>
<path d="M917.2,332.2 C915.4,331.2 910.8,329.6 906.6,326.0 C902.4,322.4 896.5,314.9 892.2,310.6 C887.9,306.3 884.5,302.4 881.0,300.0 C877.5,297.6 874.9,296.6 871.2,296.3 C867.5,296.0 863.9,296.3 858.7,298.2 C853.5,300.1 845.2,304.5 840.0,307.5 C834.8,310.5 833.9,308.1 827.4,316.0 C820.9,323.9 808.9,340.3 801.3,355.0 C793.7,369.7 790.4,387.8 781.7,404.1 C773.0,420.5 761.0,439.0 749.0,453.1 C737.0,467.2 722.1,479.2 709.8,489.0 C697.5,498.8 686.7,505.8 675.0,512.0 C663.3,518.2 645.5,524.0 639.6,526.4 L639.6,526.4 C635.0,525.2 620.1,520.9 612.0,519.0 C603.9,517.1 598.0,516.8 591.1,514.9 C584.2,513.0 574.1,509.1 570.7,507.9" fill="none" stroke="#000" stroke-width="2.6" />
<text x="827" y="425.5" font-size="19.5" text-anchor="start" fill="#000" stroke="#000" stroke-width="0.25">3</text>
<line x1="788.2" y1="392.7" x2="827.4" y2="413.9" stroke="#000" stroke-width="1.8"/>
<path d="M623.3,412.3 C612,420 608,432 610,453 C612,470 628,480 622,495 C615,505 595,503 575,495" fill="none" stroke="#000" stroke-width="2.6" />
<text x="649" y="456.5" font-size="19.5" text-anchor="start" fill="#000" stroke="#000" stroke-width="0.25">3</text>
<line x1="615.1" y1="451.5" x2="647.8" y2="451.5" stroke="#000" stroke-width="1.8"/>
<path d="M570.7,507.9 C574.1,509.1 584.3,511.4 591.1,514.9 C597.9,518.4 603.0,524.7 611.5,529.0 C620.0,533.3 632.8,538.8 642.2,540.5 C651.6,542.2 658.8,541.0 667.7,539.2 C676.6,537.5 687.4,533.5 695.8,530.0 C704.2,526.5 710.4,521.8 718.0,518.0 C725.6,514.2 733.9,508.3 741.3,507.3 C748.7,506.3 752.5,507.0 762.6,511.8 C772.7,516.6 789.4,529.0 802.0,536.1 C814.6,543.2 826.8,547.2 838.4,554.3 C850.0,561.4 866.2,574.5 871.7,578.6" fill="none" stroke="#000" stroke-width="2.6" />
<text x="655" y="580" font-size="19.5" text-anchor="start" fill="#000" stroke="#000" stroke-width="0.25">3</text>
<line x1="659.4" y1="542.2" x2="659.4" y2="561.9" stroke="#000" stroke-width="1.8"/>
<path d="M368.2,424.5 C350,424 325,430 309.4,445.8 C298,460 295,480 298,500 C301,530 315,560 329,576.5 C340,595 350,610 362,622 C375,638 395,650 410.7,658.2 C430,668 445,678 460,687.7" fill="none" stroke="#000" stroke-width="2.6" />
<text x="394" y="596.5" font-size="19.5" text-anchor="start" fill="#000" stroke="#000" stroke-width="0.25">3</text>
<line x1="387.8" y1="592.8" x2="353.5" y2="614.0" stroke="#000" stroke-width="1.8"/>
<path d="M525.3,188.6 C524.2,187.0 522.8,182.5 518.8,178.8 C514.8,175.1 508.6,169.2 501.3,166.5 C494.0,163.8 485.2,161.8 475.0,162.7 C464.8,163.6 451.8,166.3 440.0,171.8 C428.2,177.3 413.6,186.4 404.4,195.8 C395.2,205.2 390.0,217.0 384.8,228.4 C379.6,239.8 375.5,253.0 373.3,264.4 C371.1,275.8 371.1,285.6 371.7,297.0 C372.2,308.4 373.9,322.1 376.6,333.0 C379.3,343.9 383.4,353.7 388.0,362.4 C392.6,371.1 397.8,378.8 404.4,385.3 C410.9,391.8 423.5,398.9 427.3,401.6" fill="none" stroke="#000" stroke-width="2.6" />
<text x="306.5" y="238" font-size="19.5" text-anchor="start" fill="#000" stroke="#000" stroke-width="0.25">3</text>
<line x1="322.8" y1="232.6" x2="381.9" y2="232.6" stroke="#000" stroke-width="1.8"/>
<path d="M460.0,204.0 C458.7,202.5 454.1,196.2 452.0,195.0 C449.9,193.8 448.6,192.0 447.5,197.0 C446.4,202.0 446.9,215.6 445.2,225.2 C443.4,234.8 439.2,244.2 437.0,254.6 C434.8,264.9 432.7,275.9 432.2,287.3 C431.7,298.7 431.9,311.2 433.8,323.2 C435.7,335.2 439.2,348.8 443.6,359.2 C448.0,369.6 454.6,378.8 460.0,385.3 C465.4,391.8 471.3,394.3 476.3,398.4 C481.3,402.5 487.7,408.1 490.0,410.0" fill="none" stroke="#000" stroke-width="2.6" />
<text x="385" y="307.5" font-size="19.5" text-anchor="start" fill="#000" stroke="#000" stroke-width="0.25">3</text>
<line x1="398.1" y1="300.3" x2="432.1" y2="300.3" stroke="#000" stroke-width="1.8"/>
<path d="M211.4,364.1 C214,345 218,325 229,313 C240,305 255,312 268.5,323.7" fill="none" stroke="#000" stroke-width="2.6" stroke-dasharray="0.1 5" stroke-linecap="round"/>
<path d="M317.2,354.8 C330,365 340,370 360,375 C375,378 385,380 393,380.7" fill="none" stroke="#000" stroke-width="2.6" stroke-dasharray="0.1 5" stroke-linecap="round"/>
<text x="225" y="271" font-size="19.5" text-anchor="start" fill="#000" stroke="#000" stroke-width="0.25">3</text>
<line x1="229.0" y1="273.9" x2="229.0" y2="313.3" stroke="#000" stroke-width="1.8"/>
<text x="338" y="425.5" font-size="19.5" text-anchor="start" fill="#000" stroke="#000" stroke-width="0.25">3</text>
<line x1="342.1" y1="370.4" x2="342.1" y2="409.8" stroke="#000" stroke-width="1.8"/>
<g transform="translate(278,331.5) rotate(30)"><path d="M-9,-5 Q-3,-7 7,-4 Q11,0 7,4 Q-3,7 -9,5 Q-12,0 -9,-5z" fill="#000"/></g>
<text x="268.5" y="290.5" font-size="19.5" text-anchor="start" fill="#000" stroke="#000" stroke-width="0.25">12</text>
<line x1="275.1" y1="293.6" x2="275.1" y2="324.7" stroke="#000" stroke-width="1.8"/>
<g transform="translate(306,348) rotate(30)"><rect x="-11" y="-4.5" width="10" height="9" rx="3" fill="#000"/><rect x="-2" y="-5.5" width="12" height="11" rx="3" fill="#fff" stroke="#000" stroke-width="1.8"/><path d="M2,-5 v10 M6,-5 v10" stroke="#000" stroke-width="1.2"/></g>
<text x="300.5" y="308" font-size="19.5" text-anchor="start" fill="#000" stroke="#000" stroke-width="0.25">11</text>
<line x1="309.0" y1="312.3" x2="309.0" y2="345.5" stroke="#000" stroke-width="1.8"/>
<polyline points="451.4,249.2 451.4,158.8 526.9,158.8 548.0,172.0" fill="none" stroke="#000" stroke-width="3" stroke-linejoin="miter" />
<line x1="451.4" y1="272.9" x2="451.4" y2="283.5" stroke="#000" stroke-width="3"/>
<polyline points="451.4,292.0 452.2,304.0 529.0,349.5" fill="none" stroke="#000" stroke-width="3" stroke-linejoin="miter" />
<polyline points="567.3,182.5 645.4,226.4 645.3,333.3 574.2,375.0 548.8,360.3" fill="none" stroke="#000" stroke-width="3" stroke-linejoin="miter" />
<text x="488" y="124" font-size="19.5" text-anchor="start" fill="#000" stroke="#000" stroke-width="0.25">17</text>
<line x1="496.5" y1="128.4" x2="496.5" y2="159.4" stroke="#000" stroke-width="1.8"/>
<text x="456.5" y="182.5" font-size="19.5" text-anchor="start" fill="#000" stroke="#000" stroke-width="0.25">2</text>
<line x1="466.3" y1="182.5" x2="489.2" y2="193.9" stroke="#000" stroke-width="1.8"/>
<g transform="translate(492,197.5)"><rect x="-3.5" y="-7" width="7" height="13" rx="1.5" fill="#fff" stroke="#000" stroke-width="1.6"/><path d="M-3.5,-3 h7 M-3.5,0 h7 M-3.5,3 h7" stroke="#000" stroke-width="1.4"/></g>
<text x="456" y="246" font-size="19.5" text-anchor="start" fill="#000" stroke="#000" stroke-width="0.25">1</text>
<line x1="465.5" y1="236.0" x2="487.4" y2="223.7" stroke="#000" stroke-width="1.8"/>
<g><rect x="488.3" y="209.7" width="8.5" height="30" rx="2" fill="#fff" stroke="#000" stroke-width="1.6"/><path d="M488.3,222 h8.5 M488.3,230 h8.5 M490.5,210 v29 M494.5,210 v29" stroke="#000" stroke-width="1"/><rect x="495" y="221" width="9" height="10" rx="4" fill="#fff" stroke="#000" stroke-width="1.6"/></g>
<g fill="#fff" stroke="#000" stroke-width="2" stroke-linejoin="round">
    <path d="M529,269 L516,280 L514.5,299 L510.4,304 L511,310 L516,318.6 L544,330 L546.4,348 L558.6,351.3 L563.5,362.8 L583.2,362.8 L584,352 L604.4,341.5 L611,312 L609,304 L604.4,291 L602.8,279.4 L600,268 L600,218 L532,218 L532,269z"/>
    <path d="M510.4,304 Q530,318 563.5,323.5 Q595,322 611,312" fill="none" stroke-width="1.6"/>
    <path d="M516,312 Q535,326 563.5,328.5 Q592,327 607.7,318.6" fill="none" stroke-width="1.3"/>
    <path d="M516,318.6 L544,330 L575,334 L607,320" fill="none" stroke-width="1.3"/>
    <path d="M514.5,291 L529,294 L542,297.4 L539,304" fill="none" stroke-width="1.3"/>
    <path d="M602.8,279.4 Q604,290 566,298 Q532,296 531,284" fill="none" stroke-width="1.5"/>
    <path d="M533,270 Q536,281 566.8,282.7 Q597,281 600,268" fill="none" stroke-width="1.6"/>
    <path d="M531.5,228 L531.5,270 M601,228 L601,270" fill="none"/>
    <ellipse cx="566.4" cy="215.8" rx="34.6" ry="12.3"/>
    <path d="M532,219 Q534,229 566.4,231 Q599,229 601,219" fill="none" stroke-width="1.4"/>
    <ellipse cx="566.4" cy="211.2" rx="19.3" ry="6.4" stroke-width="1.9"/>
    <ellipse cx="566.4" cy="211.6" rx="15.5" ry="4.6" stroke-width="1.4"/>
    <rect x="546.4" y="330.9" width="21.2" height="18.8" rx="1.5" stroke-width="2.1"/>
    <rect x="549.7" y="334.2" width="14.7" height="12.2" stroke-width="1.2"/>
    <path d="M584,335 l6.5,-1.5 l0,8 l-6.5,1.5z" stroke-width="1.6"/>
    <path d="M570,356.2 h6.6 v5 h-6.6z" stroke-width="1.2"/>
    <circle cx="545" cy="286.5" r="4.8" stroke-width="1.8"/><circle cx="545" cy="286.5" r="2" stroke-width="1.1"/>
    <path d="M566.5,260.5 v24 M571.5,260.5 v24" fill="none" stroke-width="1.4"/>
    <rect x="566.5" y="278" width="6.5" height="16" stroke-width="1.4"/>
    <path d="M601.7,265 L609,263 L624,268 L625,287 L609,282 L602,277" stroke-width="1.6"/>
    <path d="M608,268 v14" fill="none" stroke-width="1.1"/>
    <ellipse cx="615" cy="276" rx="2.3" ry="2.8" stroke-width="1.4"/>
    </g>
<line x1="182.0" y1="87.1" x2="201.3" y2="97.2" stroke="#000" stroke-width="1.8"/>
<line x1="229.8" y1="113.7" x2="250.0" y2="124.7" stroke="#000" stroke-width="1.8"/>
<line x1="280.3" y1="142.2" x2="296.6" y2="151.7" stroke="#000" stroke-width="1.8"/>
<line x1="331.1" y1="149.6" x2="349.0" y2="139.5" stroke="#000" stroke-width="1.8"/>
<line x1="366.3" y1="128.8" x2="382.0" y2="120.1" stroke="#000" stroke-width="1.8"/>
<text x="120.5" y="111" font-size="19.5" text-anchor="start" fill="#000" stroke="#000" stroke-width="0.25">21</text>
<line x1="143.5" y1="96.3" x2="163.7" y2="84.4" stroke="#000" stroke-width="1.8"/>
<g stroke="#000" fill="#fff" stroke-width="1.8" stroke-linejoin="round">
    <path d="M165,84 L166.2,95 Q168,101.5 174,101.5 Q180.5,100.5 180.2,96 L179.5,88"/>
    <path d="M167.5,86 L168.3,95 Q170,99 174,99 Q177.5,98.5 177.8,95.5 L177.3,89" fill="none" stroke-width="0.9"/>
    <path d="M161.3,80 L166.6,68.6 L171.8,75 L176,78 L176,87 L163,85 Q160,83 161.3,80z"/>
    <ellipse cx="172.9" cy="81.5" rx="2.6" ry="5" transform="rotate(20 172.9 81.5)"/>
    <ellipse cx="178.5" cy="83.5" rx="4.6" ry="6.6" stroke-width="2.4" transform="rotate(20 178.5 83.5)"/>
    <ellipse cx="179" cy="84" rx="1.6" ry="2.8" stroke-width="1.1" transform="rotate(20 179 84)"/>
    </g>
<text x="166.5" y="137.5" font-size="19.5" text-anchor="start" fill="#000" stroke="#000" stroke-width="0.25">20</text>
<line x1="190.3" y1="122.9" x2="210.5" y2="111.9" stroke="#000" stroke-width="1.8"/>
<g transform="translate(216,106) rotate(30)" stroke="#000" stroke-linejoin="round">
    <rect x="-15" y="-5.8" width="15" height="11.6" rx="4.5" fill="#fff" stroke-width="1.8"/>
    <path d="M-10.5,-5.5 Q-8.5,0 -10.5,5.5 M-7,-5.8 Q-5,0 -7,5.8" fill="none" stroke-width="2"/>
    <path d="M-2,-7.5 L9,-7.5 Q13,-3 13,0 Q13,3 9,7.5 L-2,7.5 Q-5,3 -5,0 Q-5,-3 -2,-7.5z" fill="#000" stroke-width="1"/>
    <ellipse cx="5" cy="0" rx="4" ry="5" fill="#fff" stroke-width="0"/>
    <ellipse cx="5.5" cy="0" rx="2.6" ry="3.6" fill="#000" stroke-width="0"/>
    <path d="M0,-6 v3 M0,3 v3" stroke="#fff" stroke-width="1"/>
    </g>
<text x="215" y="165" font-size="19.5" text-anchor="start" fill="#000" stroke="#000" stroke-width="0.25">19</text>
<line x1="237.1" y1="149.5" x2="258.2" y2="138.5" stroke="#000" stroke-width="1.8"/>
<g stroke="#000" fill="#fff" stroke-linejoin="round">
    <path d="M263,130 L270,134 L268.5,137.5 L261.5,133.5z" stroke-width="1.3"/>
    <path d="M251,126 L256,122 L263,123.5 L267.5,129 L266,136 L259,138.5 L252.5,135 Q249.5,130 251,126z" stroke-width="1.8"/>
    <path d="M251.5,130 L258,133 L265.5,130 M258,133 L259,138" fill="none" stroke-width="1.1"/>
    <path d="M266.5,134.5 L272,130.5 L279,132 L282,137.5 L280.5,144.5 L274.5,147 L268.5,143.5 Q265.5,139 266.5,134.5z" stroke-width="1.8"/>
    <path d="M275,131.5 L279,132 L282,137.5 L280.5,144.5 L274.5,147 Q277.5,140 275,131.5z" fill="#000" stroke-width="1"/>
    <path d="M267,138.5 L273,141.5 M273,141.5 L274.5,147" fill="none" stroke-width="1.1"/>
    </g>
<text x="65.5" y="170" font-size="19.5" text-anchor="start" fill="#000" stroke="#000" stroke-width="0.25">22</text>
<line x1="90.3" y1="155.6" x2="112.3" y2="143.1" stroke="#000" stroke-width="1.8"/>
<g transform="translate(123.5,140) rotate(30)">
    <path d="M-12,-8 Q-16,-8 -16,-1 Q-16,6 -12,7 L11,5 Q14,4 14,0 Q14,-4 11,-5z" fill="#000" stroke="#000" stroke-width="1"/>
    <path d="M10.5,-3.5 Q12.5,0 10.5,3.5" fill="none" stroke="#fff" stroke-width="0.9"/>
    <circle cx="1.5" cy="1" r="0.9" fill="#fff"/>
    </g>
<text x="360" y="187" font-size="19.5" text-anchor="start" fill="#000" stroke="#000" stroke-width="0.25">18</text>
<line x1="331.1" y1="158.2" x2="354.8" y2="171.9" stroke="#000" stroke-width="1.8"/>
<g stroke="#000" fill="#fff" stroke-linejoin="round">
    <path d="M300,151 L310,156 L320,151 L327,158 L313,166 Q311,167.5 308,166 L297.5,159z" stroke-width="1.8"/>
    <path d="M302,155 L311,160 L322,154 M311,160 L311.5,166" fill="none" stroke-width="1.1"/>
    <ellipse cx="298.8" cy="154" rx="3.6" ry="5.6" transform="rotate(25 298.8 154)" fill="#000" stroke-width="1"/>
    <ellipse cx="299.8" cy="154.4" rx="1.3" ry="3.6" transform="rotate(25 299.8 154.4)" fill="#fff" stroke-width="0"/>
    <path d="M316,150 L320.5,145.8 L327.5,146.5 L331,152 L330,159.5 L324,163 L317.5,160 Q314.5,155 316,150z" stroke-width="1.8"/>
    <path d="M316.5,153 L323.5,156 L330.5,153 M323.5,156 L324,163" fill="none" stroke-width="1.1"/>
    </g>
<text x="390.5" y="169" font-size="19.5" text-anchor="start" fill="#000" stroke="#000" stroke-width="0.25">16</text>
<line x1="361.9" y1="140.3" x2="385.6" y2="153.9" stroke="#000" stroke-width="1.8"/>
<g stroke="#000" stroke-linejoin="round">
    <path d="M350,131 L357,126.5 L364,127 L367.5,132.5 L366,139.5 L359.5,143 L352,140.5 Q347.5,136 350,131z" fill="#fff" stroke-width="1.8"/>
    <path d="M362,126.8 L364,127 L367.5,132.5 L366,139.5 L362,141.5 Q365,134 362,126.8z" fill="#000" stroke-width="1.5"/>
    <ellipse cx="353.5" cy="136" rx="4" ry="5" fill="#000" stroke-width="0.8" transform="rotate(25 353.5 136)"/>
    <path d="M356.5,131.5 Q359,136 356.5,141" fill="none" stroke="#fff" stroke-width="0.9"/>
    </g>
<text x="421.5" y="150.5" font-size="19.5" text-anchor="start" fill="#000" stroke="#000" stroke-width="0.25">15</text>
<line x1="391.4" y1="121.6" x2="416.5" y2="136.0" stroke="#000" stroke-width="1.8"/>
<ellipse cx="386" cy="117.6" rx="4.2" ry="6.2" fill="none" stroke="#000" stroke-width="2.3" transform="rotate(-25 386 117.6)"/>
<g fill="#fff" stroke="#000" stroke-width="1.6" stroke-linejoin="round">
    <path d="M72.3,566 L72.3,675 Q84,681 96.5,675 L96.5,566" />
    <ellipse cx="84.4" cy="564.5" rx="12.1" ry="4.2" stroke-width="1.8"/>
    <path d="M72.3,569 Q84,575 96.5,569" fill="none" stroke-width="1.4"/>
    <path d="M72.3,590.5 Q84,597 96.5,590.5" fill="none" stroke-width="2.6"/>
    <path d="M74,563 Q76,550 86,548.5 Q93,548.5 93.5,553 Q93,556 89,557 Q82,559 80,563" stroke-width="1.8"/>
    <path d="M81.5,556 L81.5,564 Q84,566 86.5,564 L86.5,556" stroke-width="1.5"/>
    <rect x="79.5" y="679" width="9.5" height="13" rx="3"/>
    <path d="M96,665 Q106,662 107,672 Q106,684 92,690" fill="none" stroke-width="1.8"/>
    <path d="M94.5,667.5 Q103,666 104,672 Q103,681 91,687" fill="none" stroke-width="1"/>
    <path d="M74.5,693.5 L80,686 L90,688 L88,693z" stroke-width="1.5"/>
    </g>
<text x="28" y="616" font-size="19.5" text-anchor="start" fill="#000" stroke="#000" stroke-width="0.25">24</text>
<line x1="50.9" y1="615.9" x2="77.7" y2="632.0" stroke="#000" stroke-width="1.8"/>
<g fill="#fff" stroke="#000" stroke-width="1.9" stroke-linejoin="round">
    <path d="M73.5,714 Q74,707 82.5,704.6 L90.1,704.9 Q93,702 96,701.4 Q102,701.5 103.8,710 Q104,716 100.6,718.4 L92.4,724.8"/>
    <path d="M90,708 Q94,704.5 99.5,705 Q101.5,711 99,716 L92,721.5" fill="none" stroke-width="1.2"/>
    <path d="M74.3,716 L79,714.3 L88,714.3 L92.4,717 L92.4,732 L87.8,734.4 L79,734.4 L74.3,732z"/>
    <ellipse cx="83.3" cy="719.5" rx="6" ry="4" stroke-width="1.4"/>
    <path d="M79,724 V734.4 M87.8,724 V734.4 M74.3,722 L79,724 L87.8,724 L92.4,722" fill="none" stroke-width="1.3"/>
    <path d="M77.3,734.4 H89 V738 Q89,740.5 86,740.5 H80 Q77.3,740.5 77.3,738z" fill="#000"/>
    </g>
<text x="28" y="710" font-size="19.5" text-anchor="start" fill="#000" stroke="#000" stroke-width="0.25">25</text>
<line x1="50.9" y1="711.2" x2="76.4" y2="723.3" stroke="#000" stroke-width="1.8"/>
<g fill="#fff" stroke="#000" stroke-width="1.6" stroke-linejoin="round">
    <path d="M1059.3,556.7 L1059.3,677.3 Q1059.3,683 1067,686 L1103,705.5 L1108,703 L1108,585 L1110.6,572 L1059.3,543z"/>
    <path d="M1015.7,518 Q1016,510 1022,507 L1041,501 Q1056,497 1067,505 L1072,511.8 L1123.4,541.3 Q1138,547 1140,559.3 Q1138,564 1118.3,569.5 Q1116,572 1115.7,579.8 Q1114,584 1110.6,585 L1110.6,572 L1015.7,518 z"/>
    <path d="M1015.7,518 L1015.7,531 L1059.3,556.7" fill="none"/>
    <ellipse cx="1049" cy="511.8" rx="10" ry="5.5" stroke-width="1.8"/>
    <ellipse cx="1049" cy="513" rx="7" ry="3.5" stroke-width="1.1"/>
    <ellipse cx="1120.9" cy="551.6" rx="10" ry="5.5" stroke-width="1.8"/>
    <ellipse cx="1120.9" cy="552.8" rx="7" ry="3.5" stroke-width="1.1"/>
    <path d="M1104.2,590 L1104.2,705" fill="none" stroke-width="1.1"/>
    <ellipse cx="1075" cy="581.5" rx="3.3" ry="4.6" stroke-width="1.7" transform="rotate(-20 1075 581.5)"/>
    <ellipse cx="1090" cy="590" rx="3.3" ry="4.6" stroke-width="1.7" transform="rotate(-20 1090 590)"/>
    </g>
<line x1="1043.9" y1="617.0" x2="1090.0" y2="590.0" stroke="#000" stroke-width="1.8"/>
<g transform="translate(1034,622) rotate(-30)"><ellipse cx="-8" cy="0" rx="3.5" ry="5.5" fill="#fff" stroke="#000" stroke-width="1.7"/><rect x="-6" y="-3" width="18" height="6" fill="#fff" stroke="#000" stroke-width="1.3"/><path d="M-1,-3 l2,6 M3,-3 l2,6 M7,-3 l2,6" stroke="#000" stroke-width="1.1"/></g>
<text x="982" y="606" font-size="19.5" text-anchor="start" fill="#000" stroke="#000" stroke-width="0.25">29</text>
<line x1="1006.7" y1="605.5" x2="1028.5" y2="618.3" stroke="#000" stroke-width="1.8"/>
<text x="1136" y="614.5" font-size="19.5" text-anchor="start" fill="#000" stroke="#000" stroke-width="0.25">26</text>
<line x1="1131.1" y1="600.3" x2="1106.8" y2="585.0" stroke="#000" stroke-width="1.8"/>
<line x1="1144.0" y1="559.3" x2="1190.2" y2="532.3" stroke="#000" stroke-width="1.8"/>
<ellipse cx="1165.8" cy="546.5" rx="3" ry="4.5" fill="#fff" stroke="#000" stroke-width="2.4" transform="rotate(-30 1165.8 546.5)"/>
<circle cx="1195.3" cy="529.8" r="6" fill="#fff" stroke="#000" stroke-width="2.2"/><circle cx="1195.3" cy="529.8" r="2.5" fill="none" stroke="#000" stroke-width="1.2"/>
<text x="1199" y="577.5" font-size="19.5" text-anchor="start" fill="#000" stroke="#000" stroke-width="0.25">27</text>
<line x1="1195.3" y1="564.4" x2="1169.6" y2="549.0" stroke="#000" stroke-width="1.8"/>
<text x="1230" y="561" font-size="19.5" text-anchor="start" fill="#000" stroke="#000" stroke-width="0.25">28</text>
<line x1="1224.8" y1="545.2" x2="1200.4" y2="532.3" stroke="#000" stroke-width="1.8"/>
<text x="146" y="469" font-family="Liberation Sans" font-weight="bold" font-size="144" fill="none" stroke="#5c5c5c" stroke-width="1.0" style="mix-blend-mode:multiply">ansat-parts.ru</text>
</svg></body></html>
